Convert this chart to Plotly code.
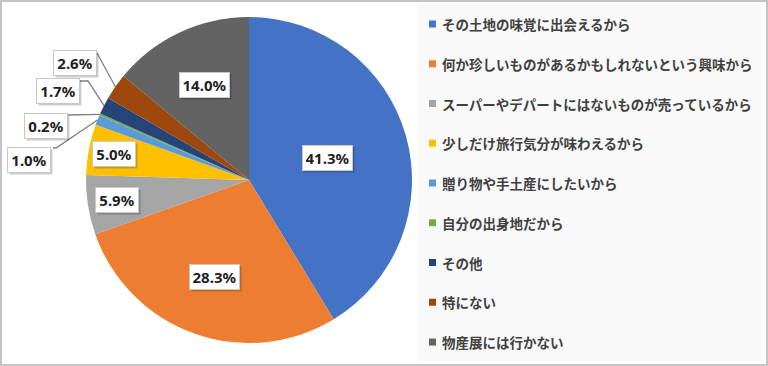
import math
import plotly.graph_objects as go

W, H = 768, 366

labels = [
    "その土地の味覚に出会えるから",
    "何か珍しいものがあるかもしれないという興味から",
    "スーパーやデパートにはないものが売っているから",
    "少しだけ旅行気分が味わえるから",
    "贈り物や手土産にしたいから",
    "自分の出身地だから",
    "その他",
    "特にない",
    "物産展には行かない",
]
values = [41.3, 28.3, 5.9, 5.0, 1.0, 0.2, 1.7, 2.6, 14.0]
colors = ["#4472C4", "#ED7D31", "#A5A5A5", "#FFC000", "#5B9BD5",
          "#70AD47", "#264478", "#9E480E", "#636363"]

# ---- layout / style parameters (pixels) ----
CX, CY, R = 249, 180, 163
inside_frac = {0: 0.50, 1: 0.63, 2: 0.82, 3: 0.845, 8: 0.645}
# outside label: box centre, leader anchor on box, optional elbow
outside = {
    4: ((29, 160), (53, 148), (56, 148)),
    5: ((46, 126), (67, 115), None),
    6: ((57.5, 91), (80, 81), (88, 81)),
    7: ((75, 63), (97, 53), None),
}
LEG_X, LEG_Y0, LEG_DY = 440, 24, 39.75


def px(x):
    return x / W


def py(y):
    return 1 - y / H


fig = go.Figure()
fig.add_trace(go.Pie(
    labels=labels, values=values, sort=False, direction="clockwise",
    rotation=0, marker=dict(colors=colors, line=dict(width=0)),
    textinfo="none", showlegend=False, hoverinfo="label+percent",
    domain=dict(x=[(CX - R) / W, (CX + R) / W],
                y=[1 - (CY + R) / H, 1 - (CY - R) / H]),
))

shapes = []
annotations = []

# frame and legend panel
shapes.append(dict(type="rect", xref="paper", yref="paper", x0=px(1), x1=px(W - 1),
                   y0=py(H - 1), y1=py(1), line=dict(color="#c4c4c4", width=2),
                   fillcolor="rgba(0,0,0,0)", layer="below"))
shapes.append(dict(type="rect", xref="paper", yref="paper", x0=px(418), x1=px(762),
                   y0=py(361), y1=py(4), line=dict(width=0),
                   fillcolor="#f9f9f9", layer="below"))

total = sum(values)
cum = 0.0
label_font = dict(family="Noto Sans, DejaVu Sans, sans-serif", size=15, color="#1f1f1f")
for i, v in enumerate(values):
    mid = (cum + v / 2) / total
    cum += v
    ang = 2 * math.pi * mid
    s = f"{v:.1f}%"
    text = f"<b>{s}</b>"
    bw = 43 if len(s) >= 5 else 36
    if i in inside_frac:
        f = inside_frac[i]
        bx = CX + f * R * math.sin(ang)
        by = CY - f * R * math.cos(ang)
    else:
        (bx, by), anchor, elbow = outside[i]
        ex = CX + R * math.sin(ang)
        ey = CY - R * math.cos(ang)
        pts = [anchor] + ([elbow] if elbow else []) + [(ex, ey)]
        path = "M " + " L ".join(f"{px(x):.5f},{py(y):.5f}" for x, y in pts)
        shapes.append(dict(type="path", xref="paper", yref="paper", path=path,
                           line=dict(color="#7f7f7f", width=1.3)))
    # shadow box (no text)
    annotations.append(dict(x=px(bx), y=py(by), xref="paper", yref="paper",
                            xanchor="center", yanchor="middle",
                            text="\u00a0", showarrow=False, xshift=2, yshift=-2,
                            width=bw, height=18,
                            font=dict(size=14, color="rgba(0,0,0,0)"),
                            bgcolor="rgba(0,0,0,0.2)", borderpad=3, borderwidth=1,
                            bordercolor="rgba(0,0,0,0)"))
    annotations.append(dict(x=px(bx), y=py(by), xref="paper", yref="paper",
                            xanchor="center", yanchor="middle",
                            text=text, showarrow=False, font=label_font,
                            width=bw, height=18,
                            bgcolor="white", borderpad=3, borderwidth=1,
                            bordercolor="#c8c8c8"))

# manual legend
for i, (lab, c) in enumerate(zip(labels, colors)):
    yc = LEG_Y0 + i * LEG_DY
    shapes.append(dict(type="rect", xref="paper", yref="paper",
                       x0=px(429), x1=px(436), y0=py(yc + 3.5), y1=py(yc - 3.5),
                       fillcolor=c, line=dict(width=0)))
    annotations.append(dict(x=px(LEG_X), y=py(yc), xref="paper", yref="paper",
                            xanchor="left", yanchor="middle", showarrow=False,
                            text=f"<b>{lab}</b>",
                            font=dict(family="Noto Sans CJK JP, sans-serif", size=13.5,
                                      color="#404040")))

fig.update_layout(
    width=W, height=H, margin=dict(l=0, r=0, t=0, b=0),
    paper_bgcolor="white", plot_bgcolor="white",
    shapes=shapes, annotations=annotations, showlegend=False,
)

fig.write_html("out.html", config={"displayModeBar": False},
               post_script="document.body.style.margin='0';document.body.style.overflow='hidden';")
